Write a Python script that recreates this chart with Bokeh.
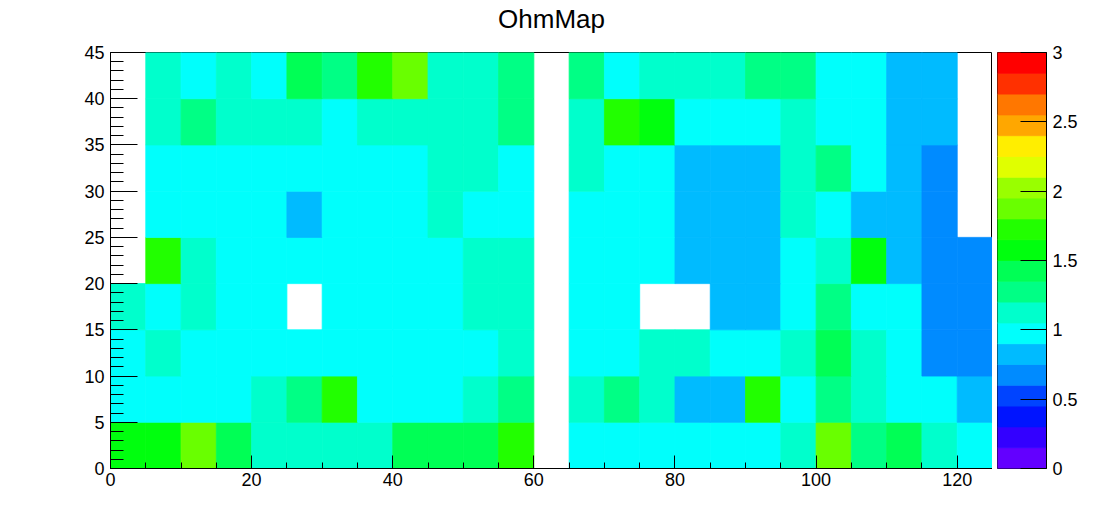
import numpy as np
from bokeh.plotting import figure
from bokeh.models import (ColumnDataSource, SingleIntervalTicker,
                          Range1d, FixedTicker)
from bokeh.layouts import row, column
from bokeh.core.properties import value
from bokeh.transform import linear_cmap
from bokeh.embed import file_html
from bokeh.resources import INLINE

# ---------------- data ----------------
title = "OhmMap"
x_bin_width = 5
y_bin_width = 5
x_min, x_max = 0, 125
y_min, y_max = 0, 45
z_min, z_max = 0, 3

# ohm values per bin, rows from y=0-5 (bottom) up to y=40-45 (top); None = empty bin
ohm_rows = [
    [1.58, 1.58, 1.88, 1.43, 1.12, 1.12, 1.12, 1.12, 1.43, 1.43, 1.43, 1.72, None, 0.98, 0.98, 0.98, 0.98, 0.98, 0.98, 1.12, 1.88, 1.28, 1.43, 1.12, 0.98],
    [0.98, 0.98, 0.98, 0.98, 1.12, 1.28, 1.72, 0.98, 0.98, 0.98, 1.12, 1.28, None, 1.12, 1.28, 1.12, 0.82, 0.82, 1.72, 0.98, 1.28, 1.12, 0.98, 0.98, 0.82],
    [0.98, 1.12, 0.98, 0.98, 0.98, 0.98, 0.98, 0.98, 0.98, 0.98, 0.98, 1.12, None, 0.98, 0.98, 1.12, 1.12, 0.98, 0.98, 1.12, 1.43, 1.12, 0.98, 0.68, 0.68],
    [1.12, 0.98, 1.12, 0.98, 0.98, None, 0.98, 0.98, 0.98, 0.98, 1.12, 1.12, None, 0.98, 0.98, None, None, 0.82, 0.82, 0.98, 1.28, 0.98, 0.98, 0.68, 0.68],
    [None, 1.72, 1.12, 0.98, 0.98, 0.98, 0.98, 0.98, 0.98, 0.98, 1.12, 1.12, None, 0.98, 0.98, 0.98, 0.82, 0.82, 0.82, 0.98, 1.12, 1.58, 0.82, 0.68, 0.68],
    [None, 0.98, 0.98, 0.98, 0.98, 0.82, 0.98, 0.98, 0.98, 1.12, 0.98, 0.98, None, 0.98, 0.98, 0.98, 0.82, 0.82, 0.82, 1.12, 0.98, 0.82, 0.82, 0.68, None],
    [None, 0.98, 0.98, 0.98, 0.98, 0.98, 0.98, 0.98, 0.98, 1.12, 1.12, 0.98, None, 1.12, 0.98, 0.98, 0.82, 0.82, 0.82, 1.12, 1.28, 0.98, 0.82, 0.68, None],
    [None, 1.12, 1.28, 1.12, 1.12, 1.12, 0.98, 1.12, 1.12, 1.12, 1.12, 1.28, None, 1.12, 1.72, 1.58, 0.98, 0.98, 0.98, 1.12, 0.98, 0.98, 0.82, 0.82, None],
    [None, 1.12, 0.98, 1.12, 0.98, 1.43, 1.28, 1.72, 1.88, 1.12, 1.12, 1.28, None, 1.28, 0.98, 1.12, 1.12, 1.12, 1.28, 1.28, 0.98, 0.98, 0.82, 0.82, None],
]

# ROOT "pretty" palette, 20 contour levels (violet -> red)
palette = [
    "#6300ff", "#3300ff", "#0014ff", "#0044ff", "#008bff",
    "#00bbff", "#00fffc", "#00ffcc", "#00ff85", "#00ff55",
    "#00ff0e", "#22ff00", "#69ff00", "#99ff00", "#e0ff00",
    "#ffee00", "#ffa700", "#ff7700", "#ff3000", "#ff0000",
]

# ---------------- build bins ----------------
left, right, bottom, top, val = [], [], [], [], []
for j, r in enumerate(ohm_rows):
    for i, v in enumerate(r):
        if v is None:
            continue
        left.append(x_min + i * x_bin_width)
        right.append(x_min + (i + 1) * x_bin_width)
        bottom.append(y_min + j * y_bin_width)
        top.append(y_min + (j + 1) * y_bin_width)
        val.append(v)
src = ColumnDataSource(dict(left=left, right=right, bottom=bottom, top=top, value=val))

FONT = "Liberation Sans"
TITLE_H = 36
W, H = 992, 522 - TITLE_H
ML, MR, MT, MB = 110, 0, 52 - TITLE_H, 54

# ---------------- title strip ----------------
tfig = figure(width=W, height=TITLE_H, output_backend="svg", toolbar_location=None,
              x_range=Range1d(0, 1), y_range=Range1d(0, 1),
              min_border_left=ML, min_border_right=MR, min_border_top=0, min_border_bottom=0,
              x_axis_type=None, y_axis_type=None)
tfig.outline_line_color = None
tfig.grid.visible = False
tfig.text(x=[0.5], y=[0.5], text=[title], text_align="center", text_baseline="middle",
          text_font=value(FONT), text_font_size="26px", text_color="black")

# ---------------- heat map ----------------
p = figure(width=W, height=H, output_backend="svg", toolbar_location=None,
           x_range=Range1d(x_min, x_max), y_range=Range1d(y_min, y_max),
           min_border_left=ML, min_border_right=MR, min_border_top=MT, min_border_bottom=MB)
cmap = linear_cmap("value", palette, z_min, z_max)
p.quad(left="left", right="right", bottom="bottom", top="top", source=src,
       fill_color=cmap, line_color=cmap, line_width=0.8)

p.grid.visible = False
p.outline_line_color = "black"
p.outline_line_width = 1
p.background_fill_color = "white"
p.border_fill_color = "white"

p.xaxis.ticker = SingleIntervalTicker(interval=20, num_minor_ticks=4)
p.yaxis.ticker = SingleIntervalTicker(interval=5, num_minor_ticks=5)
for ax in (p.xaxis[0], p.yaxis[0]):
    ax.axis_line_color = "black"
    ax.major_tick_line_color = "black"
    ax.minor_tick_line_color = "black"
    ax.major_tick_out = 0
    ax.minor_tick_out = 0
    ax.major_label_text_font = FONT
    ax.major_label_text_font_size = "18px"
    ax.major_label_text_color = "black"
p.xaxis.major_tick_in = 13
p.xaxis.minor_tick_in = 6
p.yaxis.major_tick_in = 27
p.yaxis.minor_tick_in = 13
p.xaxis.major_label_standoff = 4
p.yaxis.major_label_standoff = 6

# ---------------- colour scale ----------------
levels = np.linspace(z_min, z_max, len(palette) + 1)
cb = figure(width=110, height=H, output_backend="svg", toolbar_location=None,
            x_range=Range1d(0, 1), y_range=Range1d(z_min, z_max),
            min_border_left=5, min_border_right=56, min_border_top=MT, min_border_bottom=MB,
            x_axis_type=None, y_axis_location="right")
cb.quad(left=0, right=1, bottom=levels[:-1], top=levels[1:],
        fill_color=palette, line_color=palette, line_width=0.8)
cb.grid.visible = False
cb.outline_line_color = "black"
cb.border_fill_color = "white"
cax = cb.yaxis[0]
cax.ticker = FixedTicker(ticks=[0, 0.5, 1, 1.5, 2, 2.5, 3], minor_ticks=[])
cax.axis_line_color = "black"
cax.major_tick_line_color = "black"
cax.major_tick_in = 26
cax.major_tick_out = 0
cax.minor_tick_in = 0
cax.minor_tick_out = 0
cax.major_label_text_font = FONT
cax.major_label_text_font_size = "18px"
cax.major_label_text_color = "black"
cax.major_label_standoff = 6

layout = column(tfig, row(p, cb, spacing=0), spacing=0)
open("out.html", "w").write(file_html(layout, INLINE))
